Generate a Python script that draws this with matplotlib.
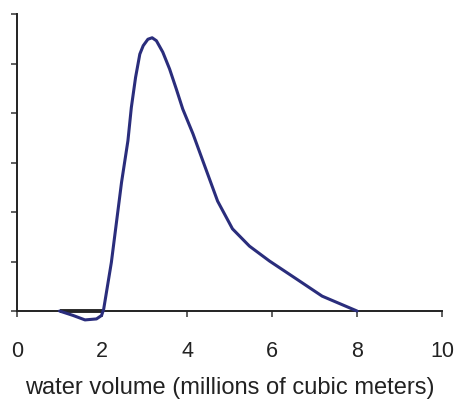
import matplotlib.pyplot as plt

# distribution of water volume (x in millions of m^3)
volume = [1.0, 1.32, 1.60, 1.87, 1.99, 2.04, 2.13, 2.22, 2.34, 2.46, 2.61, 2.69,
          2.79, 2.89, 2.97, 3.08, 3.18, 3.28, 3.43, 3.59, 3.75, 3.90, 4.14, 4.34,
          4.72, 5.07, 5.47, 5.94, 6.57, 7.18, 8.0]
density = [0.0, -0.09, -0.18, -0.16, -0.09, 0.04, 0.51, 0.98, 1.79, 2.60, 3.44, 4.11,
           4.72, 5.19, 5.36, 5.49, 5.52, 5.46, 5.23, 4.89, 4.48, 4.08, 3.58, 3.11,
           2.22, 1.66, 1.31, 1.01, 0.65, 0.30, 0.0]

# flat baseline segment between 1 and 2
base_x = [1.0, 2.0]
base_y = [0.0, 0.0]

x_ticks = [0, 2, 4, 6, 8, 10]
y_ticks = [0, 1, 2, 3, 4, 5, 6]

plt.rcParams['font.family'] = ['Liberation Sans', 'DejaVu Sans']

fig = plt.figure(figsize=(4.57, 4.02), dpi=100)
ax = fig.add_axes([17 / 457, 1 - 312 / 402, 425 / 457, 297 / 402])

ax.plot(base_x, base_y, color='#262626', lw=2.8, solid_capstyle='butt', clip_on=False, zorder=3)
ax.plot(volume, density, color='#2a2d7c', lw=2.2, clip_on=False, zorder=4,
        solid_joinstyle='round', solid_capstyle='round')

ax.set_xlim(0, 10)
ax.set_ylim(0, 6)
ax.set_xticks(x_ticks)
ax.set_xticklabels([str(t) for t in x_ticks])
ax.set_yticks(y_ticks)
ax.set_yticklabels([])

for side in ['top', 'right']:
    ax.spines[side].set_visible(False)
for side in ['left', 'bottom']:
    ax.spines[side].set_linewidth(1.4)
    ax.spines[side].set_color('#222222')

ax.tick_params(axis='x', length=4, width=1.2, color='#444444', pad=17, labelsize=15.5, labelcolor='#222222')
ax.tick_params(axis='y', length=4, width=1.2, color='#444444')

ax.set_xlabel('water volume (millions of cubic meters)', fontsize=17, color='#222222', labelpad=11)

fig.savefig('out.png', dpi=100)
